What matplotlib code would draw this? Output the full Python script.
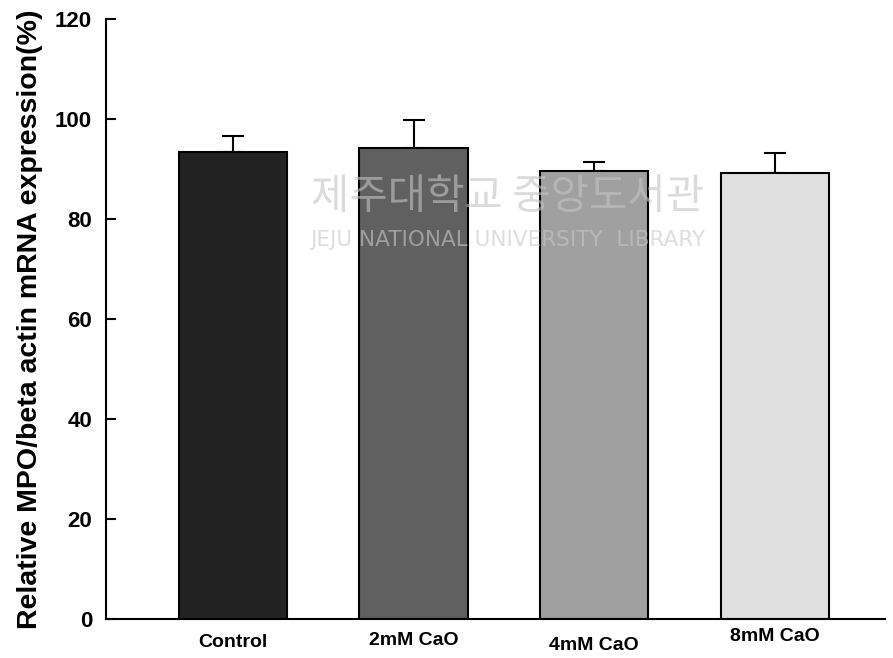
import numpy as np
import matplotlib.pyplot as plt
import matplotlib.transforms as mtransforms

# MPO expression relative to beta actin
groups = ['Control', '2mM CaO', '4mM CaO', '8mM CaO']
means = [93.5, 94.3, 89.7, 89.3]
errs = [3.2, 5.6, 1.8, 3.9]
bar_colors = ['#222222', '#606060', '#a0a0a0', '#e0e0e0']

plt.rcParams['font.family'] = ['Liberation Sans', 'DejaVu Sans']
plt.rcParams['font.weight'] = 'bold'

fig = plt.figure(figsize=(8.93, 6.58), dpi=100)
ax = fig.add_axes([106/893, 39/658, 779/893, 600/658])

x = np.arange(len(groups))
ax.bar(x, means, width=0.6, color=bar_colors, edgecolor='black', linewidth=1.5, zorder=2)
ax.errorbar(x, means, yerr=[np.zeros(len(errs)), errs], fmt='none',
            ecolor='black', elinewidth=1.5, capsize=8, capthick=1.5, zorder=1)

ax.set_xlim(-0.703, 3.61)
ax.set_ylim(0, 120)
ax.set_yticks(np.arange(0, 121, 20))
ax.set_xticks(x)
ax.set_xticklabels(groups, fontsize=14, fontweight='bold')
ax.tick_params(axis='y', direction='in', length=7, width=1.5, labelsize=16, pad=10)
ax.tick_params(axis='x', length=0, pad=11)
for lab in ax.get_yticklabels():
    lab.set_fontweight('bold')

# small vertical offsets of the group labels
shifts = [0, 2, -3, 6]
for lab, dy in zip(ax.get_xticklabels(), shifts):
    lab.set_transform(lab.get_transform() +
                      mtransforms.ScaledTranslation(0, dy/100, fig.dpi_scale_trans))

for side in ['top', 'right']:
    ax.spines[side].set_visible(False)
for side in ['left', 'bottom']:
    ax.spines[side].set_linewidth(1.5)

ax.set_ylabel('Relative MPO/beta actin mRNA expression(%)', fontsize=20.5,
              fontweight='bold')
ax.yaxis.set_label_coords(-0.097, 0.5)
ax.yaxis.label.set_va('center')

# library watermark
fig.text(0.568, 0.70, '제주대학교 중앙도서관', family=['Noto Sans CJK KR', 'DejaVu Sans'],
         fontsize=30, fontweight='normal', color='#c4c4c4', alpha=0.6,
         ha='center', va='center', zorder=5)
fig.text(0.568, 0.635, 'JEJU NATIONAL UNIVERSITY  LIBRARY', family=['DejaVu Sans'],
         fontsize=15.5, fontweight='normal', color='#c8c8c8', alpha=0.6,
         ha='center', va='center', zorder=5)

fig.savefig('out.png', dpi=100)
